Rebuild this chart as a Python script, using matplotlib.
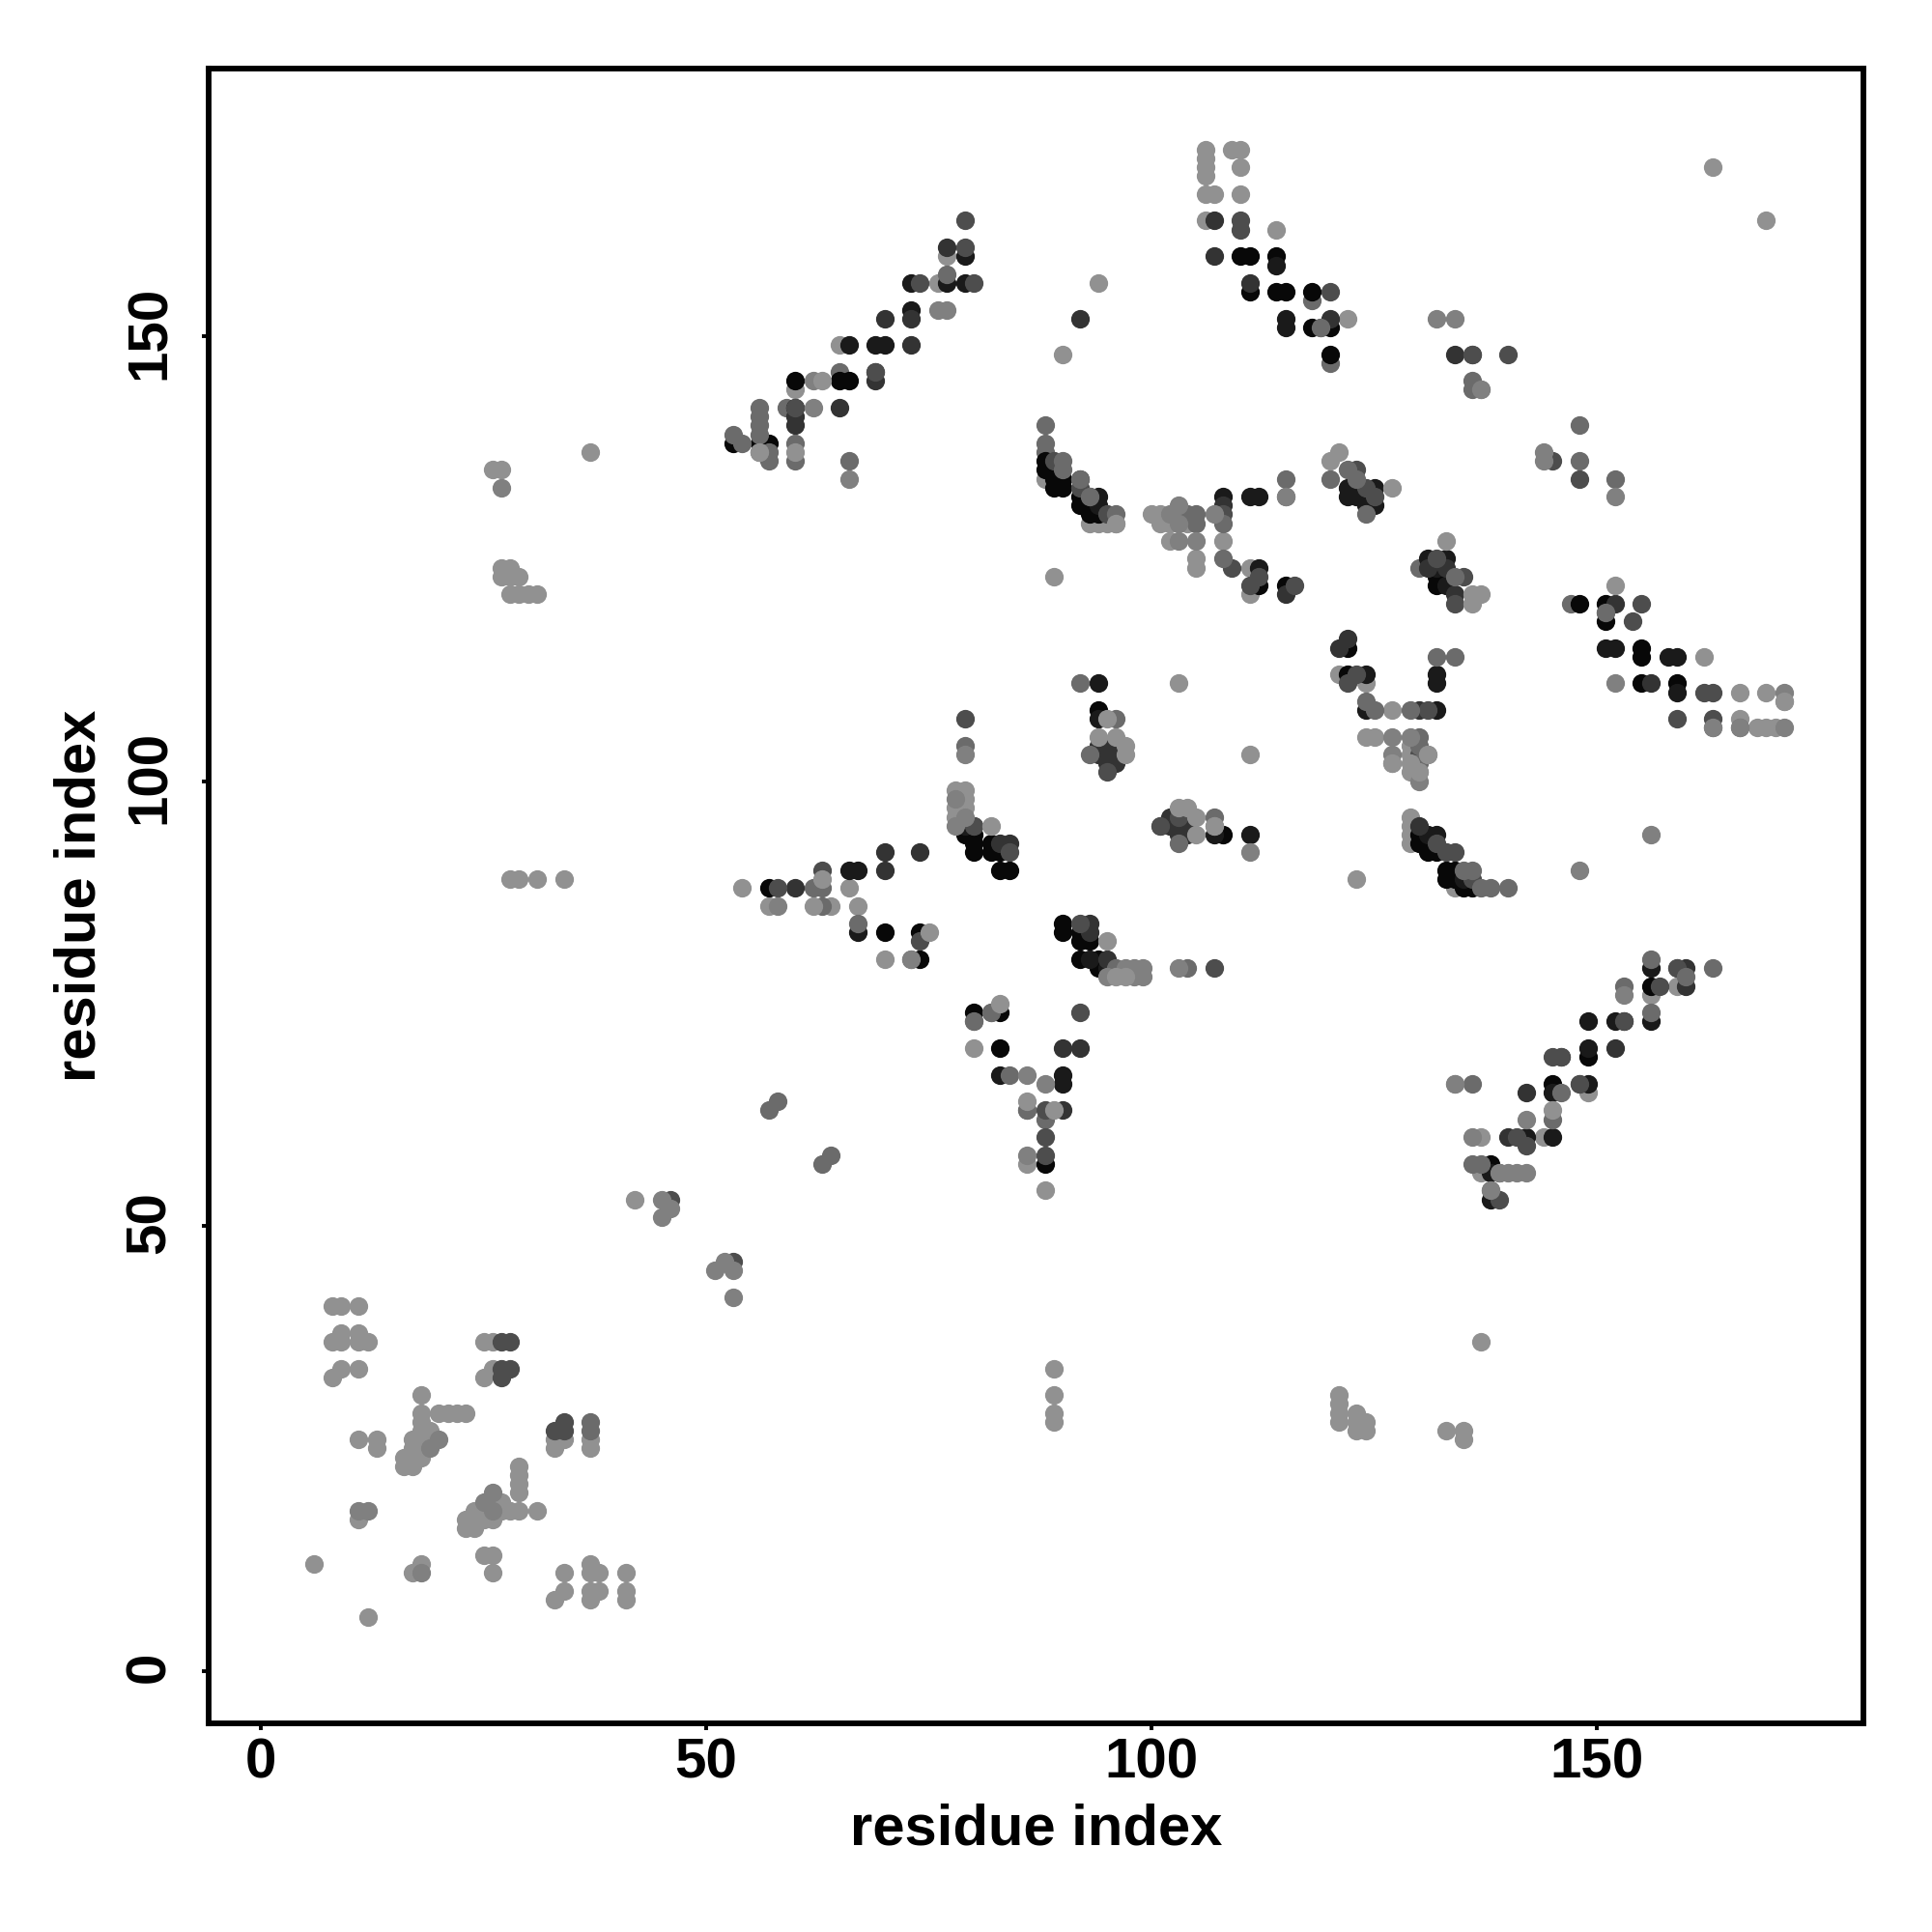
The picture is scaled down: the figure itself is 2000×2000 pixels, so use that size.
import matplotlib
matplotlib.use('Agg')
import matplotlib.pyplot as plt
from matplotlib.transforms import ScaledTranslation

plt.rcParams['font.family'] = ['Liberation Sans', 'DejaVu Sans']
plt.rcParams['font.weight'] = 'bold'

# contacts (i, j), one list per grey level
# lists are drawn in this order, so later ones sit on top
under_light = [
    (8, 41), (9, 41), (11, 41), (9, 38), (11, 38), (8, 37), (9, 37), (11, 37), (12, 37),
    (9, 34), (8, 33), (11, 34), (25, 37), (26, 37), (25, 33), (26, 34), (18, 31), (18, 29),
    (18, 28), (20, 29), (21, 29), (22, 29), (23, 29), (18, 27), (19, 27), (18, 26), (17, 26),
    (18, 25), (17, 25), (16, 24), (16, 23), (17, 23), (18, 24), (17, 24), (11, 26), (13, 26),
    (13, 25), (29, 23), (29, 22), (29, 21), (29, 20), (27, 19), (27, 18), (28, 18), (29, 18),
    (31, 18), (25, 18), (24, 18), (24, 17), (26, 17), (25, 17), (23, 17), (23, 16), (24, 16),
    (26, 18), (11, 17), (25, 13), (26, 13), (26, 11), (18, 12), (17, 11), (6, 12), (12, 6),
    (34, 11), (34, 9), (33, 8), (37, 12), (37, 11), (38, 11), (37, 9), (38, 9), (37, 8),
    (41, 11), (41, 9), (41, 8), (34, 26), (33, 26), (33, 25), (37, 26), (37, 25),
    (26, 135), (27, 135), (27, 124), (28, 124), (27, 123), (28, 123), (29, 123), (28, 121),
    (29, 121), (30, 121), (31, 121), (37, 137), (28, 89), (29, 89), (31, 89), (34, 89),
    (89, 34), (89, 31), (89, 29), (89, 28), (121, 31), (121, 30), (121, 29), (121, 28),
    (123, 29), (123, 28), (123, 27), (124, 28), (124, 27), (133, 27), (135, 27), (135, 26),
    (137, 37), (42, 53), (60, 144), (56, 137), (76, 156), (77, 159), (65, 149), (106, 171),
    (106, 170), (106, 169), (106, 168), (109, 171), (110, 171), (110, 169), (106, 166),
    (107, 166), (110, 166), (106, 163), (114, 162), (122, 152), (137, 144), (163, 169),
    (169, 163), (94, 156), (90, 148), (88, 134), (93, 129), (94, 129), (95, 129), (96, 129),
    (100, 130), (101, 130), (101, 129), (102, 129), (104, 129), (102, 127), (105, 125),
    (105, 124), (108, 127), (111, 124), (89, 123), (124, 105), (125, 105), (127, 108),
    (121, 112), (124, 111), (166, 110), (169, 110), (171, 109), (166, 107), (168, 106),
    (169, 106), (170, 106), (162, 114), (134, 88), (129, 96), (129, 95), (129, 94), (129, 93),
    (129, 104), (129, 103), (129, 101), (130, 101), (127, 102), (123, 89), (78, 99), (79, 99),
    (79, 98), (78, 97), (79, 97), (78, 96), (54, 88), (57, 86), (64, 86), (66, 88), (67, 86),
    (70, 80), (80, 70), (88, 54), (86, 57), (134, 66), (137, 60), (144, 60), (137, 56),
    (149, 65), (156, 76), (159, 77), (111, 103), (103, 111), (111, 121),
]
under_mid = [
    (120, 147), (147, 120), (120, 134), (151, 119), (73, 80), (80, 73), (82, 74), (148, 66),
    (159, 79), (136, 145), (136, 144), (118, 154), (88, 138), (88, 137), (56, 142), (56, 141),
    (56, 140), (59, 142), (65, 146), (86, 63), (88, 62), (163, 106), (166, 106), (138, 54),
    (119, 151), (63, 88), (62, 88), (130, 124), (101, 95),
]
black = [
    (60, 145), (65, 145), (66, 145), (57, 138), (60, 142), (53, 138), (56, 138),
    (111, 155), (114, 155), (115, 155), (118, 155), (118, 151), (120, 151), (120, 148),
    (110, 159), (111, 159), (114, 159), (88, 136), (88, 135), (89, 135), (89, 134), (89, 133),
    (90, 134), (90, 133), (92, 132), (92, 131), (93, 131), (93, 130), (94, 130), (112, 122),
    (115, 122), (94, 108), (122, 115), (122, 112), (148, 120), (151, 120), (151, 118),
    (155, 115), (155, 114), (155, 111), (159, 111), (132, 122), (132, 123), (133, 123),
    (130, 94), (130, 93), (131, 93), (131, 92), (132, 92), (133, 90), (134, 90), (133, 89),
    (134, 89), (135, 88), (136, 88), (79, 94), (80, 94), (80, 93), (80, 92), (82, 93), (82, 92),
    (83, 92), (83, 90), (84, 90), (90, 84), (90, 83), (92, 83), (92, 82), (93, 82), (92, 80),
    (94, 80), (94, 79), (108, 94), (57, 88), (70, 83), (74, 83), (74, 80), (83, 74), (80, 74),
    (83, 70), (156, 77), (153, 73), (149, 69), (145, 66), (138, 57), (88, 57),
]
grey10 = [
    (114, 158), (115, 152), (115, 151), (94, 132), (94, 131), (108, 132), (111, 132), (112, 132),
    (112, 124), (122, 133), (122, 132), (123, 132), (125, 133), (125, 131), (124, 131), (124, 112),
    (124, 108), (94, 111), (94, 107), (133, 125), (132, 124), (133, 122), (131, 94), (132, 94),
    (135, 89), (158, 114), (159, 114), (151, 115), (152, 115), (159, 110), (132, 112), (132, 111),
    (132, 108), (79, 95), (111, 94), (107, 94), (66, 90), (67, 90), (90, 67), (90, 66), (83, 67),
    (67, 83), (93, 80), (95, 79), (145, 65), (149, 70), (149, 73), (145, 60), (142, 60), (138, 53),
    (138, 56), (156, 79), (156, 73), (152, 73), (149, 66), (69, 149), (66, 149), (70, 149), (73, 156),
    (77, 156), (79, 156), (73, 153), (79, 159), (131, 125),
]
grey20 = [
    (60, 141), (60, 140), (65, 142), (69, 146), (69, 145), (107, 159), (107, 163), (120, 152), (111, 156),
    (134, 148), (92, 134), (108, 131), (115, 121), (121, 115), (122, 116), (94, 104), (94, 103),
    (95, 104), (95, 103), (95, 102), (96, 103), (96, 102), (131, 124), (133, 124), (134, 121), (130, 95),
    (130, 108), (152, 120), (156, 111), (90, 70), (92, 70), (74, 92), (70, 92), (70, 90), (60, 88),
    (93, 84), (93, 83), (95, 80), (83, 93), (84, 93), (80, 95), (102, 96), (102, 95), (103, 95),
    (104, 95), (103, 94), (104, 94), (142, 65), (140, 60), (146, 69), (152, 70), (160, 77), (160, 79),
    (73, 152), (70, 152), (73, 149), (77, 160), (92, 152), (90, 63), (93, 132),
]
grey30 = [
    (27, 34), (28, 34), (27, 33), (33, 27), (34, 28), (34, 27), (27, 37), (28, 37), (69, 146),
    (110, 163), (110, 162), (120, 155), (136, 148), (140, 148), (89, 136), (92, 133), (95, 130),
    (108, 130), (109, 124), (116, 122), (112, 123), (111, 122), (123, 135), (124, 133), (125, 132),
    (123, 112), (122, 111), (95, 101), (132, 125), (135, 123), (134, 120), (130, 103), (131, 108),
    (132, 93), (133, 92), (134, 92), (136, 89), (162, 110), (163, 110), (154, 118), (155, 120),
    (159, 107), (163, 107), (58, 88), (63, 90), (92, 84), (80, 95), (84, 92), (92, 74), (88, 63),
    (74, 82), (79, 107), (101, 95), (103, 96), (53, 46), (46, 53), (88, 60), (88, 58), (139, 53),
    (139, 56), (141, 60), (142, 59), (145, 69), (146, 69), (148, 66), (157, 77), (159, 79), (153, 73),
    (79, 163), (79, 160), (80, 156), (74, 156), (60, 142), (136, 148), (148, 134), (145, 136),
    (107, 79),
]
grey42 = [
    (37, 28), (37, 27), (56, 139), (54, 138), (57, 137), (57, 136), (60, 138), (60, 136), (66, 136),
    (53, 139), (88, 140), (90, 136), (90, 135), (92, 134), (93, 132), (96, 130), (103, 130),
    (104, 130), (105, 130), (105, 129), (108, 129), (108, 125), (115, 134), (115, 132), (92, 111),
    (93, 103), (96, 107), (119, 151), (122, 135), (123, 134), (124, 130), (124, 109), (125, 108),
    (129, 108), (132, 114), (134, 114), (130, 105), (130, 104), (130, 102), (134, 123), (137, 88),
    (138, 88), (140, 88), (135, 90), (136, 90), (151, 119), (79, 104), (96, 79), (104, 79),
    (107, 96), (103, 93), (67, 84), (63, 86), (58, 64), (57, 63), (64, 58), (63, 57), (84, 67),
    (82, 74), (80, 73), (86, 63), (156, 80), (153, 77), (163, 79), (160, 78), (156, 74), (146, 65),
    (145, 62), (136, 66), (136, 57), (137, 57), (148, 140), (148, 136), (152, 134), (77, 157),
]
grey50 = [
    (62, 142), (66, 134), (62, 145), (56, 137), (132, 152), (27, 133), (18, 11), (45, 53), (45, 51),
    (46, 52), (51, 45), (52, 46), (53, 45), (53, 42), (102, 130), (103, 131), (103, 129), (103, 127),
    (105, 127), (107, 130), (115, 132), (127, 105), (129, 105), (127, 103), (131, 103), (130, 100),
    (148, 90), (156, 94), (152, 111), (79, 103), (58, 86), (73, 80), (86, 58), (88, 66), (86, 67),
    (98, 79), (99, 79), (97, 79), (103, 79), (98, 78), (99, 78), (95, 78), (111, 92), (107, 95),
    (79, 96), (78, 95), (78, 98), (171, 106), (171, 110), (163, 106), (166, 106), (153, 76),
    (136, 60), (142, 62), (144, 137), (144, 136), (137, 144), (134, 152), (77, 153), (76, 153),
    (139, 56), (140, 56), (141, 56), (142, 56), (138, 54), (134, 66), (152, 132),
    (11, 18), (12, 18), (20, 26), (19, 25), (26, 20), (25, 19), (26, 18),
]
top_light = [
    (83, 75), (75, 83), (95, 107), (97, 104), (97, 103), (94, 105), (96, 105), (82, 95), (95, 82),
    (136, 121), (137, 121), (136, 120), (105, 96), (103, 97), (104, 97), (105, 94), (127, 133),
    (120, 136), (121, 137), (133, 127), (152, 122), (63, 145), (63, 89), (86, 64), (89, 63), (145, 63),
    (60, 137), (96, 78), (97, 78), (127, 102), (130, 101), (129, 102), (62, 86), (131, 103),
    (56, 137), (96, 129), (171, 109), (107, 95),
]
layers = [under_light, under_mid, black, grey10, grey20, grey30, grey42, grey50, top_light]
layer_grey = [0.57, 0.42, 0.03, 0.1, 0.2, 0.3, 0.42, 0.5, 0.57]

ticks = [0, 50, 100, 150]

fig = plt.figure(figsize=(10, 10), dpi=200)
ax = fig.add_axes([0.108, 0.108, 0.8565, 0.8565])

for pts, g in zip(layers, layer_grey):
    xs = [p[0] for p in pts]
    ys = [p[1] for p in pts]
    ax.scatter(xs, ys, s=48, c=[(g, g, g)], linewidths=0, zorder=3)

ax.set_xlim(-5.86, 179.9)
ax.set_ylim(-5.9, 180.1)
ax.set_xticks(ticks)
ax.set_yticks(ticks)
for s in ax.spines.values():
    s.set_linewidth(2.1)
ax.tick_params(width=1.4, length=2.6, labelsize=21, pad=2.5)
ax.tick_params(axis='y', pad=9.5)
# rotated labels sit a little low otherwise
nudge = ScaledTranslation(0, 1.4 / 72, fig.dpi_scale_trans)
for lab in ax.get_yticklabels():
    lab.set_rotation(90)
    lab.set_va('center')
    lab.set_transform(lab.get_transform() + nudge)
ax.set_xlabel('residue index', fontsize=21.5, fontweight='bold', labelpad=5)
ax.set_ylabel('residue index', fontsize=21.5, fontweight='bold', labelpad=6.5)

fig.savefig('out.png', dpi=200)
